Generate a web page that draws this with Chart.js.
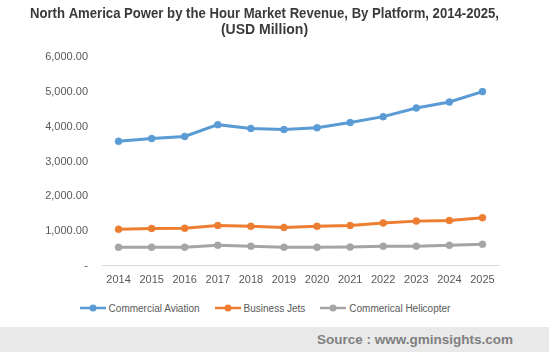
<!DOCTYPE html>
<html>
<head>
<meta charset="utf-8">
<script src="https://cdn.jsdelivr.net/npm/chart.js@4.4.1/dist/chart.umd.min.js"></script>
<style>
    html, body { margin: 0; padding: 0; background: #ffffff; }
    #wrap { width: 549px; height: 352px; position: relative; overflow: hidden; }
    #chart-box { width: 549px; height: 299px; position: relative; }
    #legend {
        position: absolute; left: 30px; top: 301px; width: 469px; height: 14px;
        display: flex; justify-content: center; align-items: center; gap: 14px;
        font: 10px "Liberation Sans", Arial, sans-serif; color: #595959;
    }
    #legend .item { display: flex; align-items: center; white-space: nowrap; }
    #legend canvas { margin-right: 2px; }
    #source {
        position: absolute; left: 0; top: 327px; width: 549px; height: 25px;
        background: #e9e9e9; box-sizing: border-box; padding-right: 36px;
        text-align: right;
        font: bold 13.5px "Liberation Sans", Arial, sans-serif; color: #7f7f7f;
        line-height: 26px;
    }
</style>
</head>
<body>
<div id="wrap">
    <div id="chart-box"><canvas id="powerChart"></canvas></div>
    <div id="legend"></div>
    <div id="source">Source : www.gminsights.com</div>
</div>
<script>
const years = ['2014', '2015', '2016', '2017', '2018', '2019', '2020', '2021', '2022', '2023', '2024', '2025'];
const commercialAviation = [3580, 3660, 3720, 4060, 3950, 3920, 3970, 4120, 4290, 4540, 4710, 5010];
const businessJets = [1050, 1075, 1080, 1160, 1135, 1105, 1135, 1160, 1230, 1285, 1305, 1385];
const commericalHelicopter = [535, 535, 535, 590, 565, 535, 535, 540, 560, 565, 590, 620];
const seriesNames = ['Commercial Aviation', 'Business Jets', 'Commerical Helicopter'];
const seriesColors = ['#5b9bd5', '#ed7d31', '#a5a5a5'];
const yTicks = [0, 1000, 2000, 3000, 4000, 5000, 6000];

const labelFont = { family: '"Liberation Sans", Arial, sans-serif', size: 11 };

// little line-with-dot marker used in the legend
function legendMarker(color) {
    const c = document.createElement('canvas');
    c.width = 28;
    c.height = 10;
    const g = c.getContext('2d');
    g.strokeStyle = color;
    g.lineWidth = 2.5;
    g.beginPath();
    g.moveTo(1, 5);
    g.lineTo(27, 5);
    g.stroke();
    g.fillStyle = color;
    g.beginPath();
    g.arc(14, 5, 3.5, 0, Math.PI * 2);
    g.fill();
    return c;
}

const seriesData = [commercialAviation, businessJets, commericalHelicopter];

// Legend (html, below the canvas)
const legendEl = document.getElementById('legend');
seriesNames.forEach((name, i) => {
    const item = document.createElement('div');
    item.className = 'item';
    item.appendChild(legendMarker(seriesColors[i]));
    const span = document.createElement('span');
    span.textContent = name;
    item.appendChild(span);
    legendEl.appendChild(item);
});

const ctx = document.getElementById('powerChart').getContext('2d');
new Chart(ctx, {
    type: 'line',
    data: {
        labels: years,
        datasets: seriesData.map((d, i) => ({
            label: seriesNames[i],
            data: d,
            borderColor: seriesColors[i],
            backgroundColor: seriesColors[i],
            borderWidth: 3,
            pointRadius: 3.5,
            pointBorderWidth: 0.5,
            pointHoverRadius: 3.5,
            tension: 0
        }))
    },
    options: {
        responsive: true,
        maintainAspectRatio: false,
        animation: false,
        layout: { padding: { left: 30, right: 50, top: 0, bottom: 4 } },
        plugins: {
            title: {
                display: true,
                text: ['North America Power by the Hour Market Revenue, By Platform, 2014-2025,', '(USD Million)'],
                color: '#3a3a3a',
                font: { family: '"Liberation Sans", Arial, sans-serif', size: 14, weight: 'bold', lineHeight: 1.15 },
                padding: { top: 6, bottom: 19 }
            },
            legend: { display: false },
            tooltip: { enabled: false }
        },
        scales: {
            x: {
                offset: true,
                grid: { display: false, drawTicks: false },
                border: { display: true, color: '#d9d9d9', width: 1 },
                ticks: { color: '#595959', font: labelFont, padding: 8, maxRotation: 0 }
            },
            y: {
                min: 0,
                max: 6000,
                afterBuildTicks: scale => { scale.ticks = yTicks.map(v => ({ value: v })); },
                grid: { display: false, drawTicks: false },
                border: { display: false },
                afterFit: scale => { scale.width = 72; },
                ticks: {
                    color: '#595959',
                    font: labelFont,
                    padding: 14,
                    callback: v => v === 0 ? '-' : v.toLocaleString('en-US', { minimumFractionDigits: 2, maximumFractionDigits: 2 })
                }
            }
        }
    }
});
</script>
</body>
</html>
